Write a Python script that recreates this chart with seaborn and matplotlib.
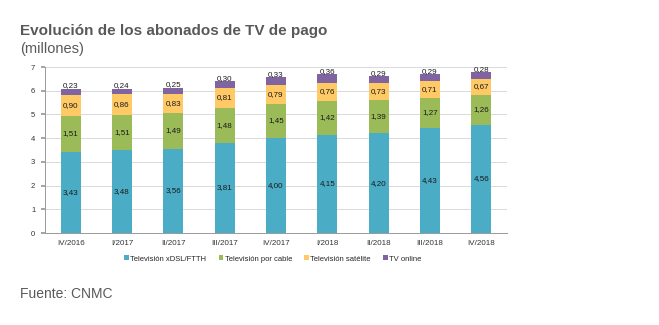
import numpy as np
import pandas as pd
import matplotlib
matplotlib.use("Agg")
import matplotlib.pyplot as plt
import seaborn as sns
from matplotlib.patches import Patch

categories = ["IV/2016", "I/2017", "II/2017", "III/2017", "IV/2017", "I/2018", "II/2018", "III/2018", "IV/2018"]
xdsl = [3.43, 3.48, 3.56, 3.81, 4.00, 4.15, 4.20, 4.43, 4.56]
cable = [1.51, 1.51, 1.49, 1.48, 1.45, 1.42, 1.39, 1.27, 1.26]
satelite = [0.90, 0.86, 0.83, 0.81, 0.79, 0.76, 0.73, 0.71, 0.67]
online = [0.23, 0.24, 0.25, 0.30, 0.33, 0.36, 0.29, 0.29, 0.28]
series_names = ["Televisión xDSL/FTTH", "Televisión por cable", "Televisión satélite", "TV online"]
colors = ["#4BACC6", "#9BBB59", "#FFC966", "#8064A2"]

sns.set_theme(style="white")
plt.rcParams['font.family'] = ['Liberation Sans', 'DejaVu Sans']

fig = plt.figure(figsize=(6.59, 3.25), dpi=100)
ax = fig.add_axes([45/659, 1-233/325, (507-45)/659, (233-67)/325])

series = [xdsl, cable, satelite, online]
cum = np.cumsum(np.array(series), axis=0)
df = pd.DataFrame({"cat": categories})
for i in range(4):
    df[f"c{i}"] = cum[i]

for i in reversed(range(4)):
    sns.barplot(data=df, x="cat", y=f"c{i}", color=colors[i], width=0.39,
                saturation=1, ax=ax, zorder=3, linewidth=0)

# labels
bottoms = np.vstack([np.zeros(len(categories)), cum[:-1]])
for i in range(3):
    for j in range(len(categories)):
        yc = bottoms[i][j] + series[i][j] / 2
        ax.text(j, yc, f"{series[i][j]:.2f}".replace(".", ","), ha="center", va="center",
                fontsize=5.8, color="#1a1a1a", zorder=5)
for j in range(len(categories)):
    ax.text(j, cum[3][j] - 0.02, f"{online[j]:.2f}".replace(".", ","), ha="center", va="bottom",
            fontsize=5.8, color="#1a1a1a", zorder=5)

ax.set_ylim(0, 7)
ax.set_xlim(-0.5, len(categories) - 0.5)
ax.set_yticks(range(0, 8))
ax.set_yticklabels([str(v) for v in range(0, 8)], fontsize=5.5, color="#333333")
ax.set_xticks(range(len(categories)))
ax.set_xticklabels(categories, fontsize=5.8, color="#333333")
ax.tick_params(axis="x", which="major", length=0, pad=5)
ax.set_xticks(np.arange(-0.5, len(categories), 1), minor=True)
ax.tick_params(axis="x", which="minor", length=3, color="#999999", direction="out")
ax.tick_params(axis="y", length=3, color="#999999", direction="out", pad=4, left=True)
ax.set_xlabel("")
ax.set_ylabel("")
ax.grid(axis="y", color="#d9d9d9", linewidth=0.7, zorder=0)
ax.set_axisbelow(True)
for s in ["top", "right"]:
    ax.spines[s].set_visible(False)
for s in ["left", "bottom"]:
    ax.spines[s].set_color("#999999")
    ax.spines[s].set_linewidth(0.7)

handles = [Patch(facecolor=c, edgecolor="none") for c in colors]
fig.legend(handles, series_names, loc="center", bbox_to_anchor=(273/659, 1-259/325), ncol=4,
           fontsize=5.5, frameon=False, handlelength=0.6, handleheight=0.6, handletextpad=0.2,
           columnspacing=1.6)

fig.text(20/659, 1-31/325, "Evolución de los abonados de TV de pago", fontsize=11,
         fontweight="bold", color="#595959", va="center", ha="left")
fig.text(20/659, 1-49/325, "(millones)", fontsize=10.5, color="#595959", va="center", ha="left")
fig.text(20/659, 1-294/325, "Fuente: CNMC", fontsize=10, color="#595959", va="center", ha="left")

fig.savefig("out.png", dpi=100)
